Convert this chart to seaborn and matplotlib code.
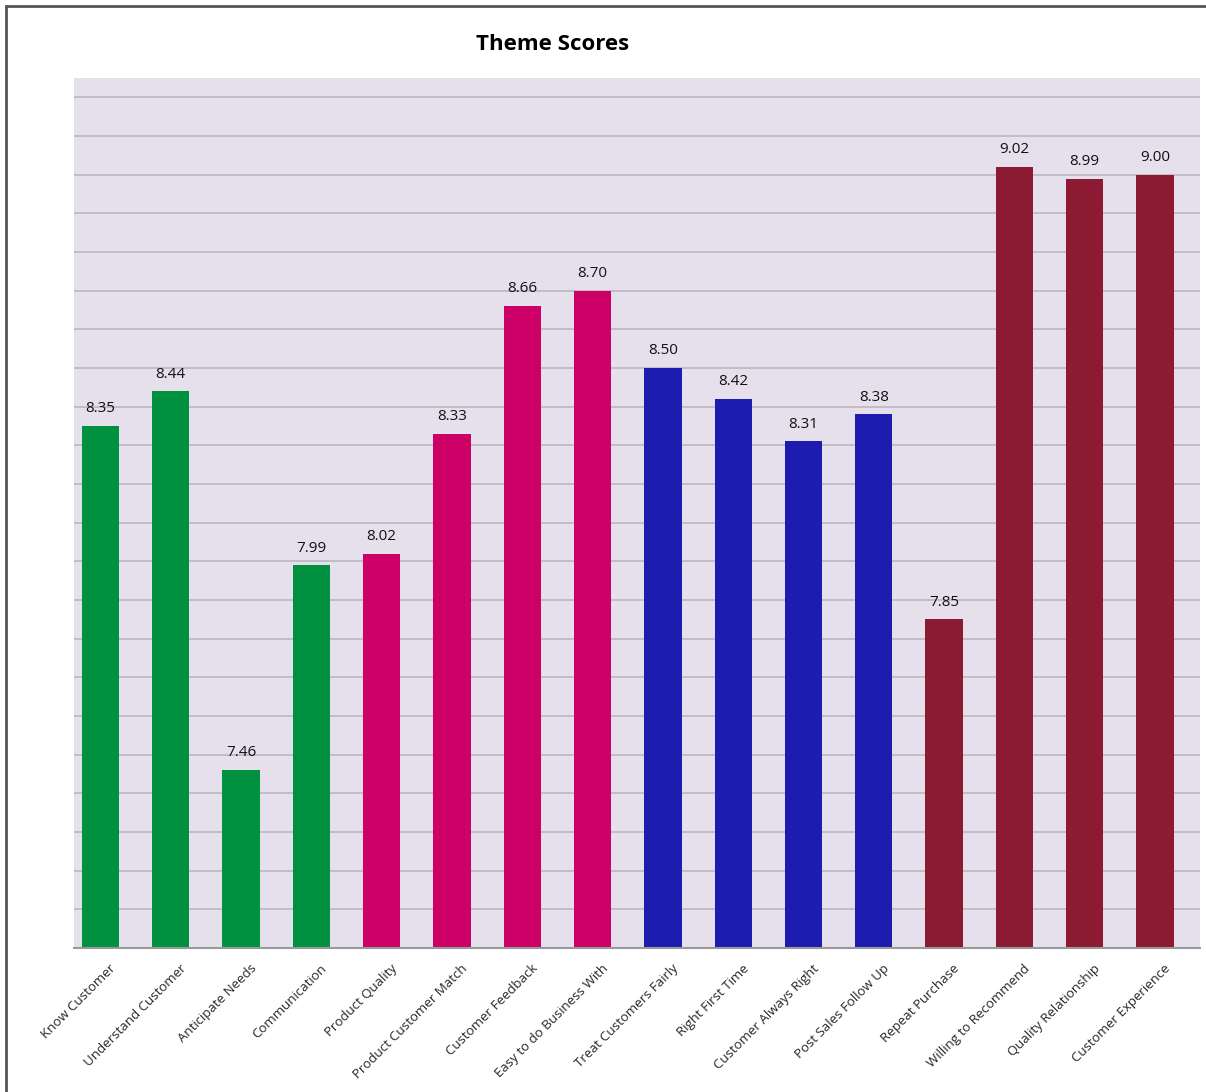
import matplotlib
matplotlib.use("Agg")
import matplotlib.pyplot as plt
import matplotlib.transforms as mtransforms
import seaborn as sns
import pandas as pd
import numpy as np
from matplotlib.patches import Rectangle

categories = ["Know Customer", "Understand Customer", "Anticipate Needs", "Communication",
              "Product Quality", "Product Customer Match", "Customer Feedback", "Easy to do Business With",
              "Treat Customers Fairly", "Right First Time", "Customer Always Right", "Post Sales Follow Up",
              "Repeat Purchase", "Willing to Recommend", "Quality Relationship", "Customer Experience"]
scores = [8.35, 8.44, 7.46, 7.99, 8.02, 8.33, 8.66, 8.70, 8.50, 8.42, 8.31, 8.38, 7.85, 9.02, 8.99, 9.00]
groups = ["A"] * 4 + ["B"] * 4 + ["C"] * 4 + ["D"] * 4
group_colors = {"A": "#009140", "B": "#CC0066", "C": "#1C1CB0", "D": "#8B1A32"}

df = pd.DataFrame({"cat": categories, "score": scores, "group": groups})

sns.set_theme(style="white")
plt.rcParams['font.family'] = ['Open Sans', 'DejaVu Sans']

fig = plt.figure(figsize=(12.06, 10.92), dpi=100)
ax = fig.add_axes([74/1206, 1 - 948/1092, (1200-74)/1206, (948-78)/1092])
ax.set_facecolor("#E5E0EC")

sns.barplot(data=df, x="cat", y="score", hue="group", palette=group_colors,
            dodge=False, width=0.53, legend=False, ax=ax, saturation=1, linewidth=0)

ax.set_ylim(7.0, 9.25)
ax.set_xlim(-0.377, 15.64)
ax.set_yticks(np.arange(7.0, 9.21, 0.1))
ax.yaxis.grid(True, color="#BDB8BE", linewidth=1.2)
ax.set_axisbelow(True)
ax.tick_params(axis="y", left=False, labelleft=False)
ax.tick_params(axis="x", bottom=False, pad=4)
ax.set_xlabel("")
ax.set_ylabel("")
for s in ["top", "right", "left"]:
    ax.spines[s].set_visible(False)
ax.spines["bottom"].set_color("#999999")
ax.spines["bottom"].set_linewidth(1.5)

ax.set_xticks(range(len(categories)))
ax.set_xticklabels(categories, rotation=45, ha="right", rotation_mode="anchor", fontsize=9.5)
offset = mtransforms.ScaledTranslation(9/100, 0, fig.dpi_scale_trans)
for lbl in ax.get_xticklabels():
    lbl.set_transform(lbl.get_transform() + offset)

for i, v in enumerate(scores):
    ax.text(i, v + 0.025, f"{v:.2f}", ha="center", va="bottom", fontsize=11, color="#111111")

fig.text(553/1206, 1 - 45/1092, "Theme Scores", ha="center", va="center",
         fontsize=16, fontweight="bold", color="black")

fig.patches.append(Rectangle((6/1206, -0.01), 1.0, 1 - 6/1092 + 0.01, transform=fig.transFigure,
                             fill=False, edgecolor="#555555", linewidth=2))

fig.savefig("out.png", dpi=100)
